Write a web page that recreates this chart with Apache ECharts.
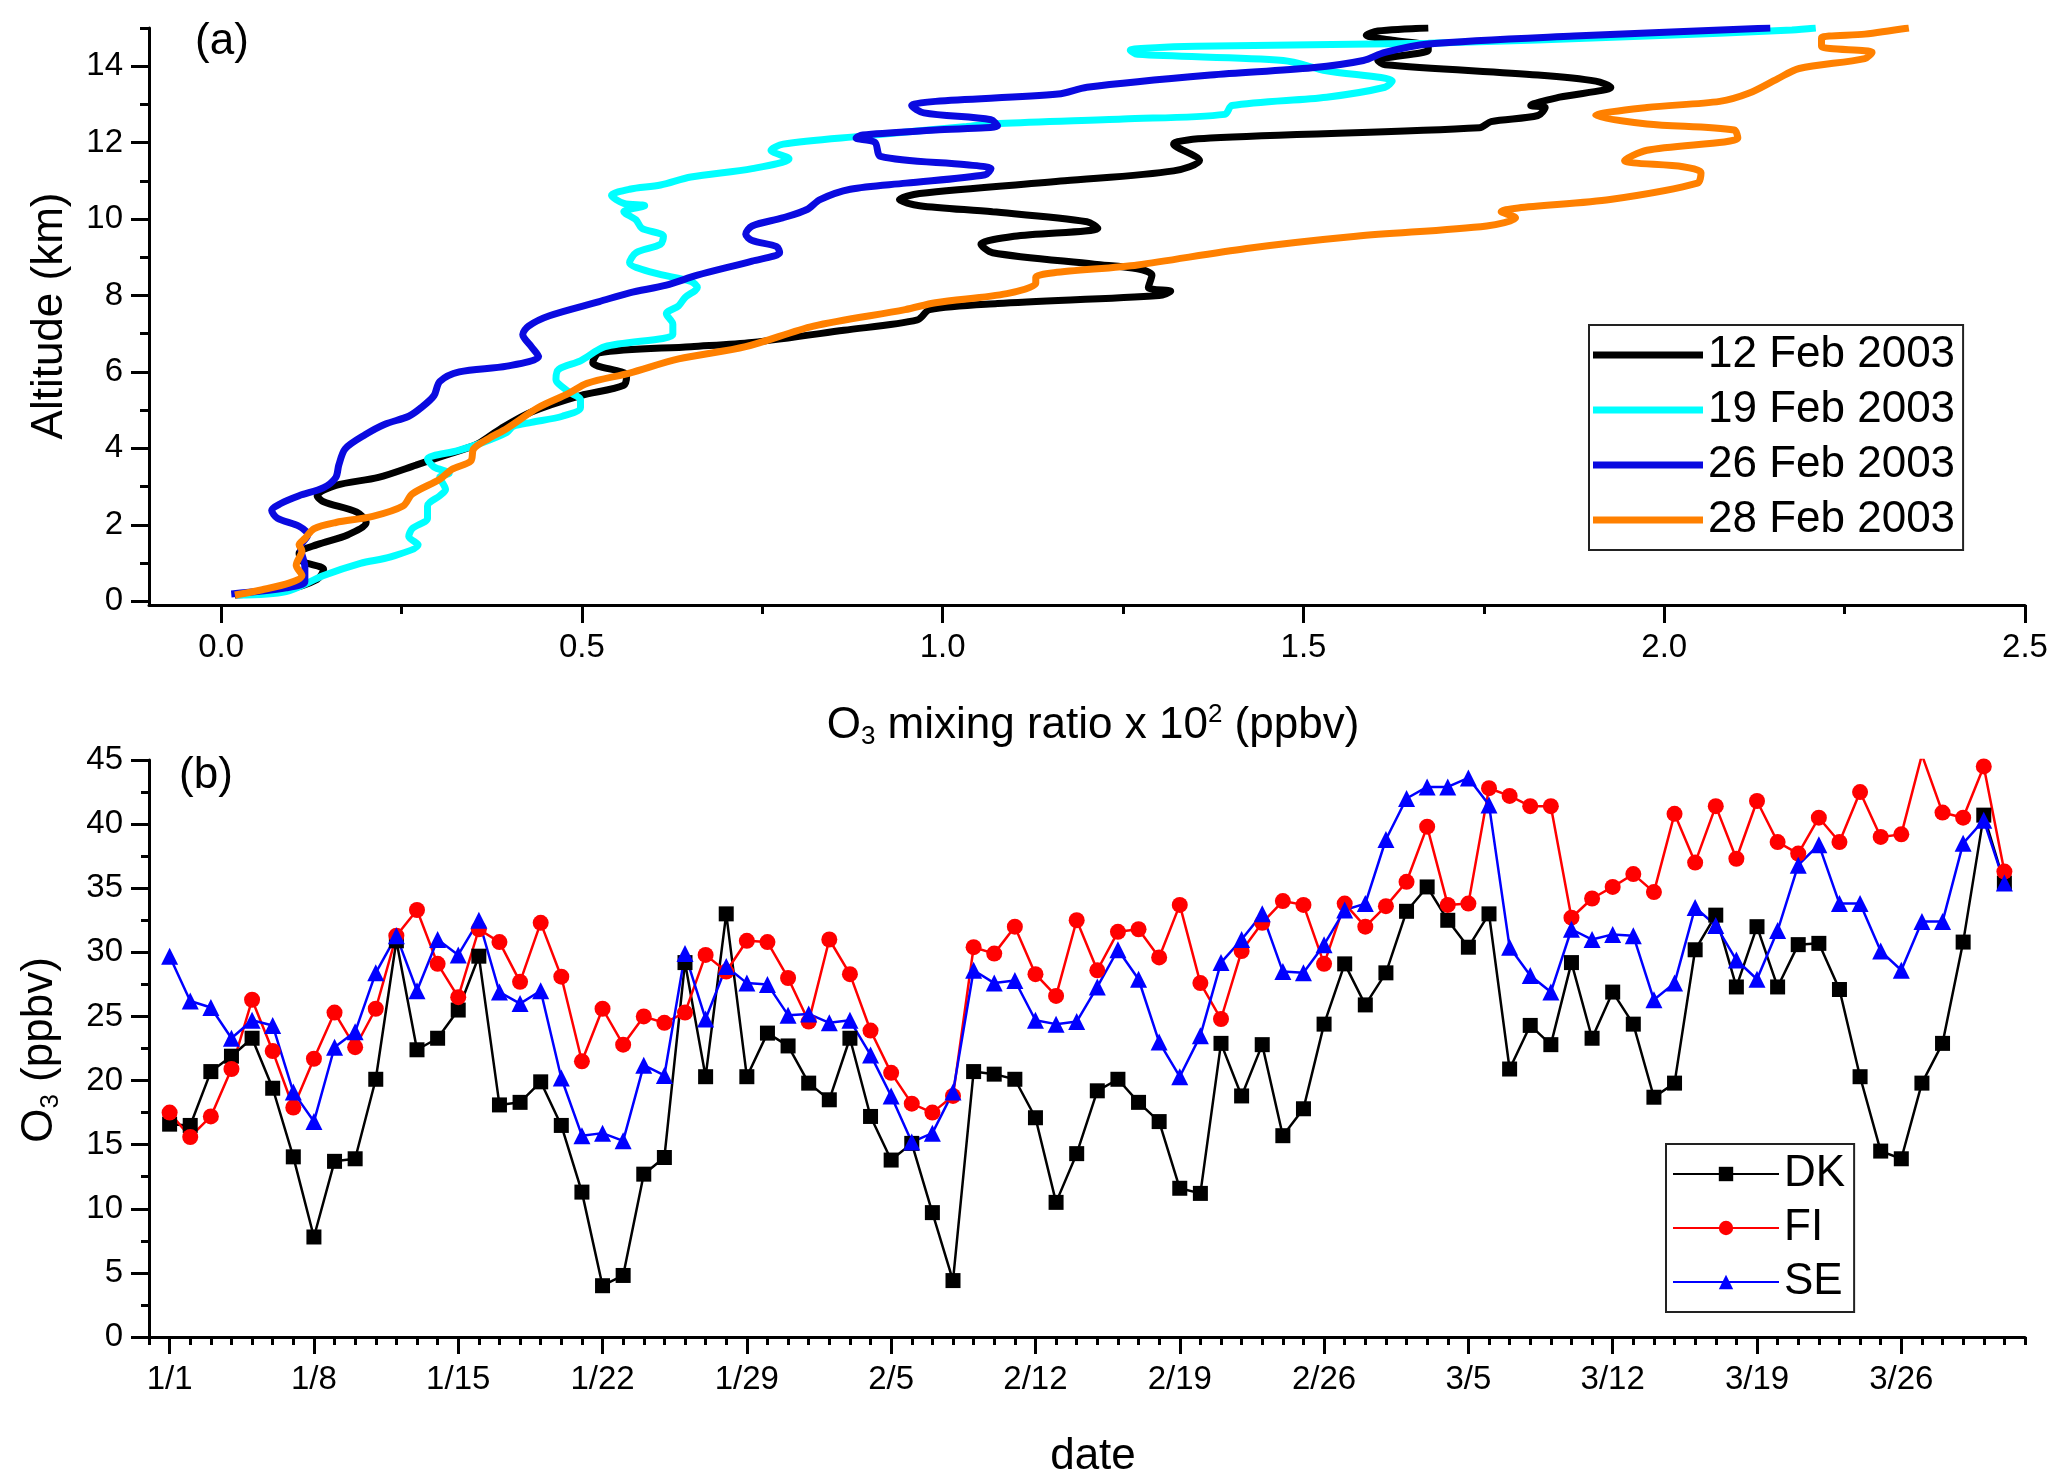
<!DOCTYPE html>
<html>
<head>
<meta charset="utf-8">
<script src="https://cdn.jsdelivr.net/npm/echarts@6/dist/echarts.min.js"></script>
<style>
  html, body { margin: 0; padding: 0; background: #fff; }
  #chart { width: 2067px; height: 1482px; }
</style>
</head>
<body>
<div id="chart"></div>
<script>
// ---- panel (a): ozone profiles, [O3 x 10^2 ppbv, altitude km] ----
var feb12 = [[0.019,0.16],[0.09,0.30],[0.133,0.57],[0.142,0.83],[0.112,1.05],[0.108,1.26],[0.133,1.48],[0.176,1.74],[0.201,2.06],[0.188,2.33],[0.142,2.60],[0.133,2.76],[0.159,3.03],[0.218,3.24],[0.27,3.56],[0.312,3.83],[0.354,4.10],[0.388,4.52],[0.43,4.95],[0.498,5.38],[0.558,5.65],[0.562,5.91],[0.515,6.24],[0.524,6.50],[0.651,6.66],[0.736,6.77],[0.863,7.09],[0.965,7.36],[0.982,7.63],[1.076,7.79],[1.30,8.00],[1.316,8.11],[1.285,8.21],[1.29,8.53],[1.27,8.70],[1.21,8.82],[1.069,9.12],[1.053,9.34],[1.099,9.55],[1.215,9.76],[1.20,9.93],[1.069,10.19],[0.968,10.35],[0.94,10.51],[0.968,10.67],[1.169,11.0],[1.32,11.26],[1.356,11.53],[1.32,11.96],[1.371,12.12],[1.744,12.39],[1.76,12.55],[1.825,12.71],[1.835,12.92],[1.815,12.97],[1.855,13.19],[1.926,13.45],[1.905,13.61],[1.825,13.77],[1.613,14.04],[1.603,14.15],[1.673,14.42],[1.673,14.52],[1.623,14.68],[1.587,14.81],[1.603,14.92],[1.673,15.0]];
var feb19 = [[0.023,0.16],[0.09,0.25],[0.142,0.67],[0.193,0.99],[0.235,1.16],[0.273,1.48],[0.26,1.69],[0.265,1.90],[0.286,2.17],[0.286,2.49],[0.303,2.76],[0.311,2.92],[0.303,3.24],[0.316,3.35],[0.295,3.51],[0.286,3.72],[0.328,3.94],[0.362,4.15],[0.396,4.42],[0.405,4.58],[0.43,4.68],[0.473,4.84],[0.498,5.06],[0.498,5.27],[0.481,5.49],[0.464,5.81],[0.468,6.07],[0.498,6.29],[0.532,6.66],[0.626,6.98],[0.626,7.25],[0.617,7.52],[0.634,7.73],[0.643,7.95],[0.66,8.21],[0.651,8.37],[0.60,8.59],[0.566,8.86],[0.575,9.12],[0.609,9.34],[0.613,9.55],[0.583,9.76],[0.575,9.98],[0.558,10.19],[0.587,10.35],[0.558,10.41],[0.541,10.62],[0.566,10.78],[0.609,10.89],[0.651,11.10],[0.736,11.32],[0.787,11.58],[0.762,11.80],[0.779,11.96],[0.889,12.17],[1.033,12.42],[1.079,12.50],[1.25,12.62],[1.391,12.74],[1.401,12.97],[1.532,13.19],[1.613,13.45],[1.623,13.61],[1.532,13.88],[1.472,14.15],[1.27,14.31],[1.26,14.42],[1.351,14.52],[1.673,14.60],[1.976,14.79],[2.177,14.95],[2.21,15.0]];
var feb26 = [[0.014,0.19],[0.09,0.35],[0.116,0.51],[0.116,0.89],[0.11,1.42],[0.12,1.74],[0.108,1.96],[0.078,2.17],[0.07,2.38],[0.082,2.55],[0.108,2.76],[0.142,2.97],[0.159,3.24],[0.163,3.56],[0.172,3.99],[0.20,4.36],[0.227,4.63],[0.26,4.84],[0.277,5.06],[0.295,5.38],[0.303,5.75],[0.33,6.00],[0.396,6.15],[0.44,6.40],[0.43,6.66],[0.418,6.98],[0.426,7.20],[0.455,7.47],[0.524,7.84],[0.566,8.07],[0.617,8.27],[0.66,8.53],[0.736,8.90],[0.774,9.12],[0.77,9.28],[0.736,9.44],[0.727,9.60],[0.736,9.82],[0.778,10.03],[0.812,10.25],[0.83,10.51],[0.872,10.78],[0.949,10.94],[1.059,11.16],[1.067,11.32],[1.033,11.42],[0.914,11.64],[0.906,12.01],[0.88,12.12],[0.889,12.20],[0.99,12.33],[1.076,12.44],[1.067,12.60],[0.974,12.78],[0.957,12.97],[0.99,13.08],[1.16,13.27],[1.2,13.45],[1.371,13.77],[1.512,13.96],[1.583,14.15],[1.613,14.36],[1.673,14.58],[1.875,14.79],[2.147,15.0]];
var feb28 = [[0.019,0.16],[0.057,0.30],[0.095,0.48],[0.112,0.67],[0.104,0.94],[0.112,1.32],[0.108,1.48],[0.116,1.64],[0.129,1.90],[0.159,2.06],[0.21,2.22],[0.252,2.49],[0.265,2.81],[0.303,3.19],[0.32,3.45],[0.346,3.67],[0.35,3.99],[0.371,4.26],[0.396,4.52],[0.439,5.06],[0.481,5.43],[0.507,5.70],[0.566,5.97],[0.634,6.34],[0.727,6.66],[0.821,7.20],[0.948,7.63],[0.99,7.81],[1.089,8.05],[1.129,8.32],[1.129,8.48],[1.27,8.80],[1.421,9.23],[1.573,9.55],[1.754,9.82],[1.794,10.03],[1.774,10.19],[1.925,10.51],[2.046,10.94],[2.051,11.21],[2.026,11.37],[1.945,11.53],[1.976,11.80],[2.102,12.12],[2.097,12.33],[1.976,12.49],[1.905,12.71],[1.976,12.92],[2.077,13.08],[2.117,13.29],[2.157,13.67],[2.187,13.94],[2.278,14.20],[2.288,14.36],[2.218,14.52],[2.218,14.74],[2.278,14.84],[2.339,15.0]];

var profileNames = ['12 Feb 2003', '19 Feb 2003', '26 Feb 2003', '28 Feb 2003'];
var xTicksA = [0, 0.5, 1.0, 1.5, 2.0, 2.5];
var xMinorA = [0.25, 0.75, 1.25, 1.75, 2.25];
var yTicksA = [0, 2, 4, 6, 8, 10, 12, 14];
var yMinorA = [1, 3, 5, 7, 9, 11, 13, 15];

// ---- panel (b): daily O3 (ppbv), day 0 = 1/1 ... day 89 = 3/31 ----
var dk = [16.6,16.5,20.7,21.9,23.3,19.4,14.05,7.8,13.7,13.9,20.1,30.9,22.4,23.3,25.5,29.7,18.1,18.3,19.9,16.5,11.3,4.0,4.8,12.7,14.0,29.2,20.3,33.0,20.3,23.7,22.7,19.8,18.5,23.3,17.2,13.8,15.1,9.7,4.4,20.7,20.5,20.1,17.1,10.5,14.3,19.2,20.1,18.3,16.8,11.6,11.2,22.9,18.8,22.8,15.7,17.8,24.4,29.1,25.9,28.4,33.2,35.1,32.5,30.4,33.0,20.9,24.3,22.8,29.2,23.3,26.9,24.4,18.7,19.8,30.2,32.9,27.3,32.0,27.3,30.6,30.7,27.1,20.3,14.5,13.9,19.8,22.9,30.8,40.7,35.4];
var fi = [17.5,15.6,17.2,20.9,26.3,22.3,17.9,21.7,25.3,22.6,25.6,31.3,33.3,29.1,26.5,31.8,30.8,27.7,32.3,28.1,21.5,25.6,22.8,25.0,24.5,25.3,29.8,28.5,30.9,30.8,28.0,24.6,31.0,28.3,23.9,20.6,18.2,17.5,18.8,30.4,29.9,32.0,28.3,26.6,32.5,28.6,31.6,31.8,29.6,33.7,27.6,24.8,30.1,32.3,34.0,33.7,29.1,33.8,32.0,33.6,35.5,39.8,33.7,33.8,42.8,42.2,41.4,41.4,32.7,34.2,35.1,36.1,34.7,40.8,37.0,41.4,37.3,41.8,38.6,37.7,40.5,38.6,42.5,39.0,39.2,45.4,40.9,40.5,44.5,36.3];
var se = [29.7,26.2,25.7,23.3,24.7,24.3,19.1,16.8,22.6,23.8,28.4,31.3,27.0,31.0,29.8,32.5,26.9,26.0,27.0,20.2,15.7,15.9,15.3,21.2,20.4,29.9,24.8,28.9,27.6,27.5,25.1,25.2,24.5,24.7,22.0,18.8,15.2,15.9,19.1,28.6,27.6,27.8,24.7,24.4,24.6,27.3,30.2,27.9,23.0,20.3,23.5,29.2,31.0,33.0,28.5,28.4,30.6,33.3,33.8,38.8,42.0,42.9,42.9,43.6,41.5,30.4,28.2,26.9,31.8,31.0,31.4,31.3,26.3,27.6,33.5,32.1,29.4,27.9,31.7,36.8,38.4,33.8,33.8,30.1,28.6,32.4,32.4,38.5,40.3,35.4];

var dateLabels = ['1/1','1/8','1/15','1/22','1/29','2/5','2/12','2/19','2/26','3/5','3/12','3/19','3/26'];
var dateTicks = dateLabels.map(function (d, i) { return i * 7; });

var FONT = 'Liberation Sans';

function withDay(arr) {
    return arr.map(function (v, i) { return [i, v]; });
}

var hiddenLine = { show: false, onZero: false };

function tickAxis(opt) {
    // common look for the black Origin-style axes
    return Object.assign({
        type: 'value',
        axisLine: { show: true, onZero: false, lineStyle: { color: '#000', width: 3 } },
        axisTick: { show: true, inside: false, length: 18, lineStyle: { color: '#000', width: 3 } },
        axisLabel: { show: true, color: '#000', fontFamily: FONT, fontSize: 33, margin: 26 },
        splitLine: { show: false }
    }, opt);
}

var chart = echarts.init(document.getElementById('chart'));

var option = {
    animation: false,
    backgroundColor: '#fff',
    grid: [
        { left: 149, top: 28, width: 1876, height: 577 },
        { left: 149, top: 760, width: 1876, height: 577 }
    ],
    xAxis: [
        tickAxis({
            gridIndex: 0, position: 'bottom', min: -0.1, max: 2.5,
            axisTick: { show: true, length: 18, customValues: xTicksA, lineStyle: { color: '#000', width: 3 } },
            axisLabel: { color: '#000', fontFamily: FONT, fontSize: 33, margin: 26, customValues: xTicksA,
                formatter: function (v) { return v.toFixed(1); } }
        }),
        tickAxis({
            gridIndex: 0, position: 'bottom', min: -0.1, max: 2.5,
            axisLine: hiddenLine,
            axisTick: { show: true, length: 9, customValues: xMinorA, lineStyle: { color: '#000', width: 3 } },
            axisLabel: { show: false }
        }),
        tickAxis({
            gridIndex: 1, position: 'bottom', min: -1, max: 90,
            axisTick: { show: true, length: 17, customValues: dateTicks, lineStyle: { color: '#000', width: 3 } },
            axisLabel: { color: '#000', fontFamily: FONT, fontSize: 33, margin: 26, customValues: dateTicks,
                formatter: function (v) { return dateLabels[Math.round(v / 7)]; } }
        }),
        tickAxis({
            gridIndex: 1, position: 'bottom', min: -1, max: 90, interval: 1,
            axisLine: hiddenLine,
            axisTick: { show: true, length: 8, lineStyle: { color: '#000', width: 3 } },
            axisLabel: { show: false }
        })
    ],
    yAxis: [
        tickAxis({
            gridIndex: 0, position: 'left', min: -0.1, max: 15,
            axisTick: { show: true, length: 18, customValues: yTicksA, lineStyle: { color: '#000', width: 3 } },
            axisLabel: { color: '#000', fontFamily: FONT, fontSize: 33, margin: 26, customValues: yTicksA }
        }),
        tickAxis({
            gridIndex: 0, position: 'left', offset: 0, min: -0.1, max: 15,
            axisLine: hiddenLine,
            axisTick: { show: true, length: 9, customValues: yMinorA, lineStyle: { color: '#000', width: 3 } },
            axisLabel: { show: false }
        }),
        tickAxis({
            gridIndex: 1, position: 'left', min: 0, max: 45, interval: 5,
            minorTick: { show: true, splitNumber: 2, length: 8, lineStyle: { color: '#000', width: 3 } }
        })
    ],
    legend: [
        {
            data: profileNames,
            orient: 'vertical',
            left: 1589, top: 325,
            icon: 'rect',
            itemWidth: 110, itemHeight: 7, itemGap: 11,
            padding: [8, 8, 8, 4],
            borderColor: '#222', borderWidth: 2,
            selectedMode: false,
            textStyle: { color: '#000', fontFamily: FONT, fontSize: 44 }
        },
        {
            data: ['DK', 'FI', 'SE'],
            orient: 'vertical',
            left: 1666, top: 1144,
            itemWidth: 106, itemHeight: 18, itemGap: 10,
            padding: [8, 9, 8, 6],
            borderColor: '#222', borderWidth: 2,
            selectedMode: false,
            textStyle: { color: '#000', fontFamily: FONT, fontSize: 44 }
        }
    ],
    series: [
        { name: profileNames[0], type: 'line', xAxisIndex: 0, yAxisIndex: 0, data: feb12,
          symbol: 'none', smooth: 0.3, color: '#000000', lineStyle: { width: 7 } },
        { name: profileNames[1], type: 'line', xAxisIndex: 0, yAxisIndex: 0, data: feb19,
          symbol: 'none', smooth: 0.3, color: '#00ffff', lineStyle: { width: 7 } },
        { name: profileNames[2], type: 'line', xAxisIndex: 0, yAxisIndex: 0, data: feb26,
          symbol: 'none', smooth: 0.3, color: '#0a0ae0', lineStyle: { width: 7 } },
        { name: profileNames[3], type: 'line', xAxisIndex: 0, yAxisIndex: 0, data: feb28,
          symbol: 'none', smooth: 0.3, color: '#ff8000', lineStyle: { width: 7 } },

        { name: 'DK', type: 'line', xAxisIndex: 2, yAxisIndex: 2, data: withDay(dk),
          symbol: 'rect', symbolSize: 15, color: '#000000', lineStyle: { width: 2.5 } },
        { name: 'FI', type: 'line', xAxisIndex: 2, yAxisIndex: 2, data: withDay(fi),
          symbol: 'circle', symbolSize: 16, color: '#ff0000', lineStyle: { width: 2.5 } },
        { name: 'SE', type: 'line', xAxisIndex: 2, yAxisIndex: 2, data: withDay(se),
          symbol: 'triangle', symbolSize: 17, color: '#0000ff', lineStyle: { width: 2.5 } }
    ],
    graphic: [
        { type: 'text', x: 222, y: 42, style: { text: '(a)', font: '44px "Liberation Sans"', fill: '#000',
            textAlign: 'center', textVerticalAlign: 'middle' } },
        { type: 'text', x: 206, y: 776, style: { text: '(b)', font: '44px "Liberation Sans"', fill: '#000',
            textAlign: 'center', textVerticalAlign: 'middle' } },
        { type: 'text', x: 1093, y: 726, style: {
            text: '{n|O}{sub|3}{n| mixing ratio x 10}{sup|2}{n| (ppbv)}',
            textAlign: 'center', textVerticalAlign: 'middle',
            rich: {
                n: { fontFamily: FONT, fontSize: 44, lineHeight: 48, fill: '#000' },
                sub: { fontFamily: FONT, fontSize: 26, lineHeight: 26, verticalAlign: 'bottom', fill: '#000' },
                sup: { fontFamily: FONT, fontSize: 26, lineHeight: 26, verticalAlign: 'top', fill: '#000' }
            } } },
        { type: 'text', x: 1093, y: 1457, style: { text: 'date', font: '44px "Liberation Sans"', fill: '#000',
            textAlign: 'center', textVerticalAlign: 'middle' } },
        { type: 'text', x: 50, y: 316, rotation: Math.PI / 2, style: { text: 'Altitude (km)',
            font: '44px "Liberation Sans"', fill: '#000', textAlign: 'center', textVerticalAlign: 'middle' } },
        { type: 'text', x: 40, y: 1050, rotation: Math.PI / 2, style: {
            text: '{n|O}{sub|3}{n| (ppbv)}',
            textAlign: 'center', textVerticalAlign: 'middle',
            rich: {
                n: { fontFamily: FONT, fontSize: 44, lineHeight: 48, fill: '#000' },
                sub: { fontFamily: FONT, fontSize: 26, lineHeight: 26, verticalAlign: 'bottom', fill: '#000' }
            } } }
    ]
};

chart.setOption(option);
window.addEventListener('resize', function () {
    chart.resize();
});
</script>
</body>
</html>
